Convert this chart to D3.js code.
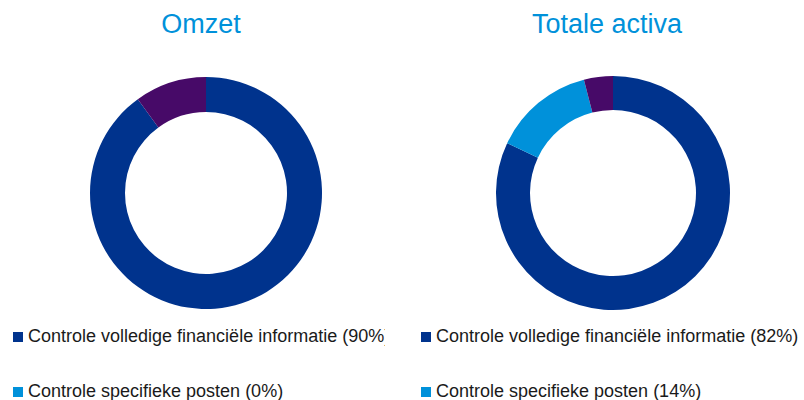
<!DOCTYPE html>
<html>
<head>
<meta charset="utf-8">
<script src="https://cdn.jsdelivr.net/npm/d3@7"></script>
<style>
  body { margin: 0; background: #fff; }
  svg { display: block; font-family: "Liberation Sans", Arial, sans-serif; }
</style>
</head>
<body>
<div id="chart"></div>
<script>
// DATA
const categories = ["Controle volledige financiële informatie", "Controle specifieke posten", "Overige"]
const titles = ["Omzet", "Totale activa"]
const omzetValues = [90, 0, 10]
const activaValues = [82, 14, 4]
const colors = ["#00338D", "#0091DA", "#470A68"]

const width = 804, height = 400

const svg = d3.select("#chart")
    .append("svg")
    .attr("width", width)
    .attr("height", height)

// clip the left panel so its legend is cut like the original
svg.append("defs").append("clipPath")
    .attr("id", "clipLeft")
    .append("rect")
    .attr("x", 0).attr("y", 0)
    .attr("width", 385).attr("height", height)

const colorScale = d3.scaleOrdinal()
    .domain(categories)
    .range(colors)

const pie = d3.pie().sort(null).value(d => d.value)

const panels = [
    { title: titles[0], values: omzetValues, cx: 206, r: 116, ri: 81, legendX: 13, titleX: 201, clip: true },
    { title: titles[1], values: activaValues, cx: 613, r: 117, ri: 83, legendX: 421, titleX: 607, clip: false }
]

panels.forEach(p => {
    const g = svg.append("g")
    if (p.clip) g.attr("clip-path", "url(#clipLeft)")

    // TITLE
    g.append("text")
        .attr("x", p.titleX)
        .attr("y", 33)
        .attr("text-anchor", "middle")
        .attr("fill", "#0091DA")
        .attr("font-size", 27)
        .text(p.title)

    const data = categories.map((c, i) => ({ name: c, value: p.values[i] }))
    const arc = d3.arc().innerRadius(p.ri).outerRadius(p.r)

    // DONUT
    g.append("g")
        .attr("transform", `translate(${p.cx}, 193)`)
        .selectAll("path")
        .data(pie(data))
        .join("path")
        .attr("d", arc)
        .attr("fill", d => colorScale(d.data.name))

    // LEGEND (third entry falls below the visible area)
    const legend = g.append("g")
        .selectAll("g")
        .data(data.slice(0, 2))
        .join("g")
        .attr("transform", (d, i) => `translate(${p.legendX}, ${342 + i * 55})`)

    legend.append("rect")
        .attr("x", 0).attr("y", -10)
        .attr("width", 10).attr("height", 10)
        .attr("fill", d => colorScale(d.name))

    legend.append("text")
        .attr("x", 15)
        .attr("y", 0)
        .attr("font-size", 18)
        .attr("fill", "#1a1a1a")
        .text(d => `${d.name} (${d.value}%)`)
})
</script>
</body>
</html>
